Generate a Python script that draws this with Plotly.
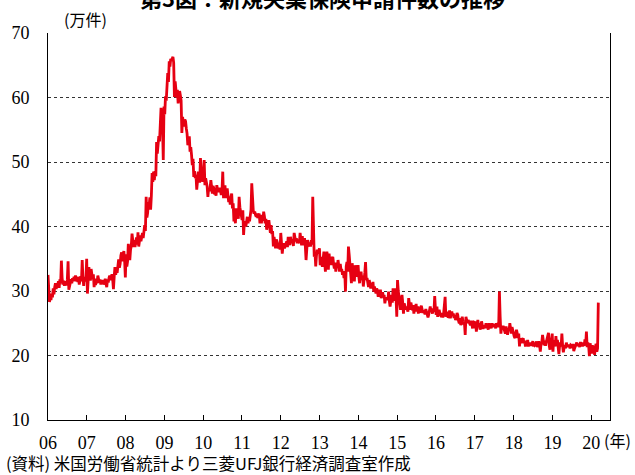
import pandas as pd
import plotly.graph_objects as go

# Weekly initial jobless claims (万件), week ending Saturday, from 2006-01-07
claims_2006 = [32.5, 28.8, 28.3, 29.2, 28.6, 29.6, 29.0, 30.4, 29.5, 30.6, 31.2, 30.3, 31.0,
               30.8, 31.5, 30.5, 31.8, 31.2, 34.7, 32.0, 31.0, 31.6, 30.8, 31.5, 31.2, 30.9,
               31.8, 34.6, 30.2, 31.0, 31.5, 31.8, 31.2, 32.0, 31.5, 32.2, 31.6, 32.4, 31.5,
               31.8, 31.4, 32.2, 31.0, 31.7, 32.3, 31.5, 34.8, 32.0, 30.8, 32.2, 31.5, 31.8]
claims_2007 = [35.0, 29.6, 31.5, 33.7, 32.5, 31.6, 33.4, 32.0, 31.8, 32.6, 30.6, 31.4, 30.9,
               31.9, 31.2, 32.4, 31.6, 31.3, 31.8, 31.0, 31.5, 31.2, 31.7, 31.0, 31.4, 31.9,
               31.1, 30.6, 31.8, 31.3, 32.0, 32.4, 31.7, 32.3, 32.6, 31.8, 30.3, 32.2, 33.7,
               32.5, 33.3, 32.8, 33.8, 34.9, 33.6, 34.2, 35.5, 36.0, 34.6, 35.3, 36.2, 34.8]
claims_2008 = [32.1, 35.7, 33.8, 34.6, 37.3, 35.8, 34.8, 36.4, 37.0, 38.9, 37.5, 36.8, 37.9,
               36.8, 37.6, 38.3, 37.2, 39.1, 36.9, 37.8, 38.6, 37.7, 38.4, 39.0, 38.2, 39.6,
               40.2, 39.3, 44.6, 41.4, 42.1, 43.8, 43.2, 44.5, 42.6, 44.8, 48.3, 46.9, 48.5,
               47.2, 48.6, 47.8, 53.1, 51.3, 52.6, 54.0, 53.2, 56.8, 58.4, 57.2, 55.6, 50.3]
claims_2009 = [58.6, 57.4, 60.2, 59.5, 63.0, 63.8, 62.4, 65.6, 64.8, 66.0, 65.7, 66.1, 66.3,
               65.4, 60.1, 62.5, 61.4, 60.0, 61.2, 59.1, 60.0, 61.0, 60.3, 59.5, 54.5, 57.0,
               56.0, 55.5, 56.6, 56.3, 55.2, 54.4, 52.6, 53.7, 54.0, 51.6, 52.3, 51.1, 49.5,
               50.5, 47.7, 48.6, 47.5, 48.0, 45.7, 47.0, 48.5, 47.7, 46.8, 50.6, 48.0, 47.2]
claims_2010 = [47.0, 47.5, 50.3, 46.4, 47.5, 47.0, 46.2, 44.6, 45.9, 45.5, 46.0, 47.2, 45.8,
               45.1, 46.3, 45.9, 45.0, 45.2, 44.8, 46.4, 45.7, 46.0, 45.3, 46.0, 45.5, 44.9,
               45.6, 48.5, 44.4, 45.8, 46.4, 44.4, 45.2, 45.9, 44.8, 43.8, 44.6, 43.4, 44.6,
               45.1, 42.8, 43.6, 40.8, 41.9, 40.5, 42.8, 41.6, 42.3, 41.2, 44.6, 43.0, 42.0]
claims_2011 = [42.0, 41.0, 42.5, 38.7, 40.5, 40.8, 40.0, 41.2, 41.5, 40.5, 41.3, 40.8, 41.6,
               42.6, 46.7, 43.1, 42.5, 42.0, 42.3, 41.8, 41.5, 42.0, 41.3, 41.8, 42.0, 40.5,
               41.0, 40.5, 41.8, 40.9, 42.3, 41.6, 40.5, 41.2, 39.5, 40.5, 40.0, 41.0, 39.6,
               39.0, 40.2, 38.8, 39.3, 36.9, 38.4, 37.5, 36.6, 38.0, 37.7, 37.0, 36.6, 37.5, 36.4]
claims_2012 = [39.0, 37.2, 35.8, 37.0, 37.4, 36.6, 36.9, 37.3, 37.7, 36.8, 38.4, 37.5, 37.1,
               38.4, 37.6, 38.0, 37.4, 37.0, 39.0, 38.1, 37.7, 38.2, 37.4, 38.0, 37.6, 37.4,
               39.0, 37.8, 37.1, 38.5, 37.1, 37.5, 38.2, 37.0, 34.8, 36.5, 37.9, 37.2, 36.9,
               37.5, 36.9, 37.9, 37.2, 44.6, 37.9, 35.3, 36.0, 33.8, 35.5, 36.4, 35.8, 36.2]
claims_2013 = [36.6, 34.0, 35.3, 34.2, 33.8, 35.0, 36.1, 34.6, 33.0, 34.8, 36.1, 35.3, 33.3,
               35.8, 34.5, 35.3, 34.0, 35.0, 35.3, 34.2, 33.5, 34.4, 33.0, 34.1, 33.6, 34.8,
               33.8, 33.0, 34.2, 33.3, 33.4, 32.5, 33.0, 32.0, 33.1, 29.9, 33.8, 34.5, 33.0,
               36.9, 35.6, 34.0, 33.5, 31.2, 34.3, 33.0, 32.7, 31.5, 34.0, 33.2, 32.2, 33.5]
claims_2014 = [34.0, 32.2, 31.2, 32.6, 33.0, 31.7, 32.4, 30.7, 31.5, 32.8, 34.5, 31.7, 32.0,
               31.2, 30.6, 31.7, 30.9, 30.4, 31.2, 30.9, 31.4, 29.9, 30.7, 30.2, 29.6, 30.4,
               30.0, 29.1, 30.2, 29.5, 30.2, 28.9, 29.4, 29.8, 29.0, 29.4, 28.1, 28.8, 28.6,
               29.0, 28.6, 29.9, 28.4, 27.6, 28.5, 29.4, 28.2, 30.4, 29.2, 28.5, 30.4, 29.0]
claims_2015 = [26.0, 31.7, 30.0, 29.1, 27.8, 27.1, 28.5, 29.4, 28.2, 26.5, 28.1, 27.5, 27.1,
               27.6, 27.3, 26.8, 28.9, 27.5, 27.1, 28.2, 27.8, 27.0, 27.8, 26.5, 27.4, 27.3,
               28.0, 26.8, 27.6, 26.5, 27.3, 26.6, 27.5, 27.7, 27.2, 26.6, 27.0, 26.7, 26.4,
               27.2, 26.8, 26.6, 25.9, 26.4, 27.1, 27.6, 26.8, 27.0, 26.5, 27.3, 26.8, 29.2]
claims_2016 = [27.2, 26.3, 27.6, 26.0, 26.6, 27.1, 26.5, 26.3, 26.0, 26.6, 25.9, 26.5, 27.4,
               29.1, 26.0, 26.6, 26.8, 25.9, 26.0, 27.0, 25.8, 26.3, 26.8, 26.2, 26.5, 25.8,
               26.3, 25.5, 25.8, 26.6, 26.3, 25.4, 25.0, 25.8, 24.7, 25.2, 26.0, 25.3, 24.8,
               25.0, 23.2, 26.0, 25.4, 25.0, 25.5, 25.2, 25.0, 24.7, 25.4, 24.7, 24.2, 25.2, 25.3]
claims_2017 = [24.2, 25.3, 23.7, 25.0, 25.5, 24.5, 25.0, 24.0, 24.4, 25.3, 24.5, 24.1, 24.7,
               24.3, 24.5, 25.0, 24.2, 24.7, 24.0, 25.0, 24.5, 24.7, 24.2, 25.0, 24.4, 24.8,
               24.5, 24.9, 24.2, 25.0, 24.6, 25.0, 24.4, 29.9, 26.0, 23.4, 24.5, 24.2, 24.6,
               24.0, 23.8, 23.4, 24.5, 24.0, 23.2, 24.2, 23.8, 25.0, 24.0, 23.4, 24.4, 23.7]
claims_2018 = [23.4, 22.9, 22.7, 23.2, 24.0, 23.4, 22.7, 23.4, 21.4, 22.6, 21.9, 22.7, 22.2,
               22.7, 21.9, 22.3, 21.4, 22.0, 21.6, 22.4, 21.4, 21.8, 21.6, 22.0, 21.5, 21.9,
               22.2, 21.4, 22.0, 21.6, 21.7, 22.2, 21.3, 21.6, 22.2, 21.6, 20.6, 21.9, 22.0,
               23.2, 21.7, 21.6, 22.3, 21.5, 22.1, 22.6, 23.3, 23.5, 21.5, 20.9, 22.0, 22.4]
claims_2019 = [23.4, 20.6, 22.4, 21.5, 21.4, 23.0, 21.6, 22.4, 21.3, 20.2, 21.6, 22.0, 21.4,
               23.4, 21.5, 20.5, 21.2, 21.6, 21.1, 22.0, 21.4, 21.6, 21.3, 21.7, 21.1, 21.6,
               21.5, 21.2, 21.8, 20.7, 21.1, 21.5, 21.6, 22.0, 21.5, 21.6, 21.8, 21.3, 22.1,
               21.5, 22.0, 21.4, 21.8, 21.5, 22.5, 21.7, 23.7, 21.3, 22.0, 21.5, 19.9, 21.9]
claims_2020 = [21.1, 20.3, 21.6, 20.9, 21.5, 20.1, 21.3, 21.8, 20.6, 21.1, 28.2]

claims = (claims_2006 + claims_2007 + claims_2008 + claims_2009 + claims_2010 +
          claims_2011 + claims_2012 + claims_2013 + claims_2014 + claims_2015 +
          claims_2016 + claims_2017 + claims_2018 + claims_2019 + claims_2020)

first_week = "2006-01-07"
tick_years = list(range(2006, 2021))
tick_labels = ["06", "07", "08", "09", "10", "11", "12", "13", "14", "15",
               "16", "17", "18", "19", "20"]

dates = pd.date_range(first_week, periods=len(claims), freq="W-SAT")

SERIF = "Liberation Serif"
JP = "Noto Sans CJK JP"

fig = go.Figure()
fig.add_trace(go.Scatter(
    x=dates, y=claims, mode="lines",
    line=dict(color="rgb(230,0,18)", width=2.8),
    hoverinfo="skip", showlegend=False,
))

x_start = pd.Timestamp(first_week)
x_end = x_start + pd.Timedelta(days=5290)

fig.update_layout(
    width=635, height=475,
    margin=dict(l=48, r=25, t=33, b=55),
    paper_bgcolor="white", plot_bgcolor="white",
    font=dict(family=SERIF, size=17, color="black"),
    xaxis=dict(
        type="date", range=[x_start, x_end],
        tickvals=[pd.Timestamp(f"{y}-01-07") for y in tick_years],
        ticktext=tick_labels,
        ticks="inside", ticklen=5, tickwidth=1, tickcolor="black",
        showline=True, linecolor="black", linewidth=1,
        showgrid=False, zeroline=False,
        tickfont=dict(family=SERIF, size=18, color="black"),
        ticklabelstandoff=6,
    ),
    yaxis=dict(
        range=[10, 70], tick0=10, dtick=10,
        showgrid=True, gridcolor="#333333", gridwidth=1, griddash="3px,3px",
        showline=True, mirror=True, linecolor="black", linewidth=1,
        ticks="", zeroline=False,
        tickfont=dict(family=SERIF, size=18, color="black"),
        ticklabelstandoff=14,
    ),
    annotations=[
        dict(text="<b>第3図：新規失業保険申請件数の推移</b>", xref="paper", yref="paper",
             x=0.489, y=1.093, xanchor="center", yanchor="middle", showarrow=False,
             font=dict(family=JP, size=22, color="black")),
        dict(text="(万件)", xref="paper", yref="paper",
             x=0.025, y=1.035, xanchor="left", yanchor="middle", showarrow=False,
             font=dict(family=JP, size=16, color="black")),
        dict(text="(年)", xref="paper", yref="paper",
             x=0.985, y=-0.052, xanchor="left", yanchor="middle", showarrow=False,
             font=dict(family=JP, size=16, color="black")),
        dict(text="(資料) 米国労働省統計より三菱UFJ銀行経済調査室作成", xref="paper", yref="paper",
             x=-0.078, y=-0.11, xanchor="left", yanchor="middle", showarrow=False,
             font=dict(family=JP, size=16.5, color="black")),
    ],
)

fig.write_html("out.html", config={"displayModeBar": False},
               post_script="document.body.style.margin='0';")
